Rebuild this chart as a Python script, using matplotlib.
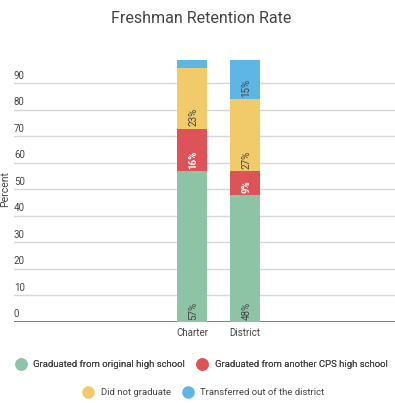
import numpy as np
import matplotlib.pyplot as plt
from matplotlib.lines import Line2D

plt.rcParams['font.family'] = ['Roboto', 'DejaVu Sans']

schools = ["Charter", "District"]
series = ["Graduated from original high school",
          "Graduated from another CPS high school",
          "Did not graduate",
          "Transferred out of the district"]
original = [57, 48]
another_cps = [16, 9]
not_grad = [23, 27]
transferred = [3, 15]
values = [original, another_cps, not_grad, transferred]
colors = ["#8dc4a5", "#dd5358", "#f1cb6a", "#5eb6e5"]
label_colors = ["#444444", "white", "#444444", "#444444"]

fig = plt.figure(figsize=(3.95, 4.03), dpi=100)
ax = fig.add_axes([0.0354, 0.201, 0.9646, 0.6576])

x = np.arange(len(schools))
bottom = np.zeros(len(schools))
for vals, col, lcol in zip(values, colors, label_colors):
    vals = np.array(vals)
    ax.bar(x, vals, bottom=bottom, width=0.55, color=col, zorder=3)
    for xi, b, v in zip(x, bottom, vals):
        if v >= 5:
            ax.text(xi + 0.03, b + 0.8, "%d%%" % v, rotation=90, ha='center',
                    va='bottom', fontsize=7, color=lcol,
                    fontweight='bold' if lcol == 'white' else 'normal', zorder=4)
    bottom += vals

ax.set_xlim(-3.36, 3.83)
ax.set_ylim(0, 100)
for g in range(10, 100, 10):
    ax.axhline(g, color='#d6d6d6', lw=1, zorder=1)
ax.axhline(0, color='#666666', lw=1.2, zorder=2)
for g in range(0, 100, 10):
    ax.text(-3.36, g + 1.0, str(g), ha='left', va='bottom', fontsize=7,
            color='#444444')

ax.set_xticks(x)
ax.set_xticklabels(schools, fontsize=7, color='#444444')
ax.tick_params(axis='x', length=0, pad=4)
ax.set_yticks([])
for s in ax.spines.values():
    s.set_visible(False)

fig.text(0.013, 0.53, "Percent", rotation=90, ha='center', va='center',
         fontsize=7.5, color='#444444')
fig.text(0.51, 0.953, "Freshman Retention Rate", ha='center', va='center',
         fontsize=11.5, color='#444444')

handles = [Line2D([], [], marker='o', ls='', markersize=8, color=c) for c in colors]
leg1 = fig.legend(handles[:2], series[:2], loc='center', bbox_to_anchor=(0.505, 0.096),
                  ncol=2, frameon=False, fontsize=6.8, handletextpad=0.35,
                  columnspacing=0.8, labelcolor='#444444')
fig.add_artist(leg1)
fig.legend(handles[2:], series[2:], loc='center', bbox_to_anchor=(0.51, 0.026),
           ncol=2, frameon=False, fontsize=6.8, handletextpad=0.35,
           columnspacing=0.8, labelcolor='#444444')

fig.savefig("out.png", dpi=100)
